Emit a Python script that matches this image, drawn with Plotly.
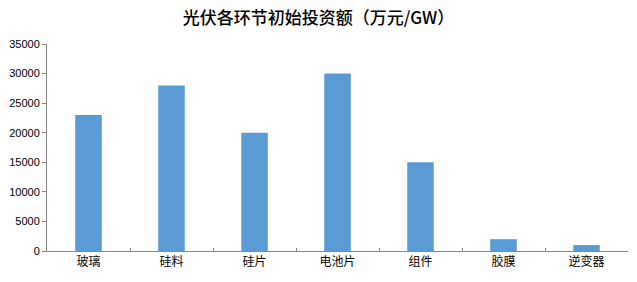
import plotly.graph_objects as go

categories = ["玻璃", "硅料", "硅片", "电池片", "组件", "胶膜", "逆变器"]
values = [23000, 28000, 20000, 30000, 15000, 2000, 1000]
y_ticks = [0, 5000, 10000, 15000, 20000, 25000, 30000, 35000]

fig = go.Figure(go.Bar(x=categories, y=values, marker=dict(color="#5B9BD5", line=dict(width=0)), width=0.32))

fig.update_layout(
    width=637, height=282,
    margin=dict(l=44, r=9, t=44, b=31),
    paper_bgcolor="white", plot_bgcolor="white",
    title=dict(text="光伏各环节初始投资额（万元/GW）", x=0.5, xanchor="center",
               y=1 - 18 / 282, yanchor="middle",
               font=dict(family="Noto Sans CJK SC", size=17, color="#000000", weight=500)),
    showlegend=False,
)
fig.update_xaxes(
    showline=True, linecolor="#878787", linewidth=1,
    ticks="inside", ticklen=3, tickcolor="#878787", tickson="boundaries",
    tickfont=dict(family="Noto Sans CJK SC", size=12, color="#000000"),
    showgrid=False,
)
fig.update_yaxes(
    range=[0, 35000], tickvals=y_ticks, ticktext=[str(v) for v in y_ticks],
    showline=True, linecolor="#878787", linewidth=1,
    ticks="outside", ticklen=4, tickcolor="#878787",
    tickfont=dict(family="Liberation Sans", size=11, color="#000000"),
    showgrid=False, zeroline=False,
)

fig.write_html("out.html")
